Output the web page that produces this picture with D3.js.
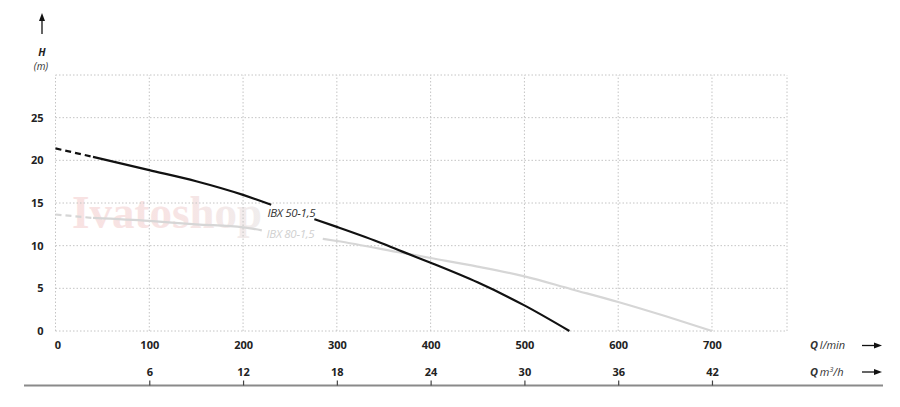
<!DOCTYPE html>
<html>
<head>
<meta charset="utf-8">
<script src="https://cdn.jsdelivr.net/npm/d3@7"></script>
<style>
  html, body { margin: 0; padding: 0; background: #fff; }
  svg { display: block; font-family: "Open Sans", "DejaVu Sans", sans-serif; }
</style>
</head>
<body>
<div id="chart"></div>
<script>
// ---- data ----
const qTicksLmin = [0, 100, 200, 300, 400, 500, 600, 700];
const qTicksM3h = [6, 12, 18, 24, 30, 36, 42];
const hTicks = [0, 5, 10, 15, 20, 25];

const ibx50Q = [0, 40, 100, 150, 200, 230, 276, 300, 350, 370, 400, 450, 500, 548];
const ibx50H = [21.4, 20.4, 18.85, 17.55, 15.95, 14.8, 13.1, 12.2, 10.2, 9.3, 8.0, 5.7, 3.0, 0];

const ibx80Q = [0, 40, 100, 150, 200, 220, 285, 300, 370, 400, 450, 500, 550, 600, 650, 700];
const ibx80H = [13.65, 13.25, 12.9, 12.5, 12.15, 11.8, 10.8, 10.55, 9.15, 8.55, 7.55, 6.4, 4.9, 3.4, 1.75, 0];

const seriesNames = ["IBX 50-1,5", "IBX 80-1,5"];
// dashed up to, label gap from/to (l/min)
const ibx50Breaks = [40, 230, 276];
const ibx80Breaks = [40, 220, 285];

// ---- chart ----
const W = 900, H = 407;
const svg = d3.select("#chart").append("svg").attr("width", W).attr("height", H);

const x = d3.scaleLinear().domain([0, 780]).range([55.5, 787]);
const xm = d3.scaleLinear().domain([0, 780 * 0.06]).range([55.5, 787]);
const y = d3.scaleLinear().domain([0, 30]).range([331, 75]);

// watermark
const defs = svg.append("defs");
const grad = defs.append("linearGradient").attr("id", "wm").attr("x1", "0").attr("x2", "1").attr("y1", "0").attr("y2", "0");
grad.append("stop").attr("offset", "0").attr("stop-color", "#f8e2e2");
grad.append("stop").attr("offset", "0.55").attr("stop-color", "#f7e4e4");
grad.append("stop").attr("offset", "1").attr("stop-color", "#f0eded");
svg.append("text")
  .attr("x", 72).attr("y", 228)
  .style("font-family", "'Liberation Serif', 'DejaVu Serif', serif")
  .attr("font-weight", "bold")
  .attr("font-size", 46)
  .attr("textLength", 190)
  .attr("lengthAdjust", "spacingAndGlyphs")
  .attr("fill", "url(#wm)")
  .text("Ivatoshop");

// grid
const grid = svg.append("g").attr("stroke", "#c4c4c4").attr("stroke-width", 1).attr("stroke-dasharray", "1.5,2").attr("fill", "none");
qTicksLmin.concat([780]).forEach(q => {
  grid.append("line").attr("x1", x(q)).attr("x2", x(q)).attr("y1", y(0)).attr("y2", y(30));
});
hTicks.concat([30]).forEach(h => {
  grid.append("line").attr("x1", x(0)).attr("x2", x(780)).attr("y1", y(h)).attr("y2", y(h));
});

// Y axis labels
const yAxis = svg.append("g").attr("transform", `translate(${x(0)},0)`)
  .call(d3.axisLeft(y).tickValues(hTicks).tickSize(0).tickPadding(12));
yAxis.select(".domain").remove();
yAxis.selectAll("text").attr("font-size", 11).attr("font-weight", "bold").attr("fill", "#222")
  .style("font-family", "'Open Sans', sans-serif");

// X axis l/min labels
const xAxis = svg.append("g").attr("transform", `translate(0,${y(0)})`)
  .call(d3.axisBottom(x).tickValues(qTicksLmin).tickSize(0).tickPadding(10));
xAxis.select(".domain").remove();
xAxis.selectAll("text").attr("font-size", 11).attr("font-weight", "bold").attr("fill", "#222")
  .style("font-family", "'Open Sans', sans-serif");
xAxis.selectAll(".tick").filter(d => d === 0).select("text").attr("dx", 2);

// bottom m3/h axis
const baseY = 385.5;
svg.append("line").attr("x1", 24).attr("x2", 883).attr("y1", baseY).attr("y2", baseY)
  .attr("stroke", "#8a8a8a").attr("stroke-width", 2);
const mAxis = svg.append("g").attr("transform", `translate(0,${baseY})`)
  .call(d3.axisTop(xm).tickValues(qTicksM3h).tickSize(5).tickPadding(4.5));
mAxis.select(".domain").remove();
mAxis.selectAll("line").attr("stroke", "#444").attr("stroke-width", 1.2);
mAxis.selectAll("text").attr("font-size", 11).attr("font-weight", "bold").attr("fill", "#222")
  .style("font-family", "'Open Sans', sans-serif");

// axis titles
function axisTitle(yy, unitParts) {
  const t = svg.append("text").attr("x", 810).attr("y", yy).attr("font-size", 11).attr("fill", "#333").attr("font-style", "italic");
  t.append("tspan").attr("font-weight", "bold").text("Q");
  unitParts.forEach(p => {
    const s = t.append("tspan").text(p.t);
    if (p.sup) s.attr("font-size", 7).attr("baseline-shift", "super");
  });
}
axisTitle(349, [{t: "\u2009l/min"}]);
axisTitle(376, [{t: "\u2009m"}, {t: "3", sup: true}, {t: "/h"}]);

function rightArrow(yy) {
  svg.append("line").attr("x1", 862).attr("x2", 876).attr("y1", yy).attr("y2", yy).attr("stroke", "#111").attr("stroke-width", 1.3);
  svg.append("path").attr("d", `M882,${yy} L874,${yy - 3} L874,${yy + 3} Z`).attr("fill", "#111");
}
rightArrow(345.5);
rightArrow(372);

// up arrow + H label
svg.append("line").attr("x1", 42).attr("x2", 42).attr("y1", 34).attr("y2", 20).attr("stroke", "#111").attr("stroke-width", 1.3);
svg.append("path").attr("d", "M42,13 L39,21 L45,21 Z").attr("fill", "#111");
svg.append("text").attr("x", 42).attr("y", 56).attr("text-anchor", "middle").attr("font-size", 10.5)
  .attr("font-weight", "bold").attr("font-style", "italic").attr("fill", "#222").text("H");
svg.append("text").attr("x", 41).attr("y", 70).attr("text-anchor", "middle").attr("font-size", 10)
  .attr("font-style", "italic").attr("fill", "#333").text("(m)");

// curves
const line = d3.line().x(d => x(d[0])).y(d => y(d[1])).curve(d3.curveMonotoneX);
function drawSeries(qs, hs, br, color, width) {
  const pts = qs.map((q, i) => [q, hs[i]]);
  const dashed = pts.filter(p => p[0] <= br[0]);
  const s1 = pts.filter(p => p[0] >= br[0] && p[0] <= br[1]);
  const s2 = pts.filter(p => p[0] >= br[2]);
  svg.append("path").datum(dashed).attr("d", line).attr("fill", "none").attr("stroke", color)
    .attr("stroke-width", width).attr("stroke-dasharray", "6,4");
  [s1, s2].forEach(s => svg.append("path").datum(s).attr("d", line).attr("fill", "none")
    .attr("stroke", color).attr("stroke-width", width).attr("stroke-linecap", "butt"));
}
drawSeries(ibx80Q, ibx80H, ibx80Breaks, "#d6d6d6", 2.2);
drawSeries(ibx50Q, ibx50H, ibx50Breaks, "#111", 2.2);

// curve labels
svg.append("text").attr("x", x(226)).attr("y", y(13.4)).attr("font-size", 11.5).attr("font-style", "italic")
  .attr("letter-spacing", -0.3).attr("fill", "#333").text(seriesNames[0]);
svg.append("text").attr("x", x(225)).attr("y", y(10.85)).attr("font-size", 11.5).attr("font-style", "italic")
  .attr("letter-spacing", -0.3).attr("fill", "#d0d0d0").text(seriesNames[1]);
</script>
</body>
</html>
